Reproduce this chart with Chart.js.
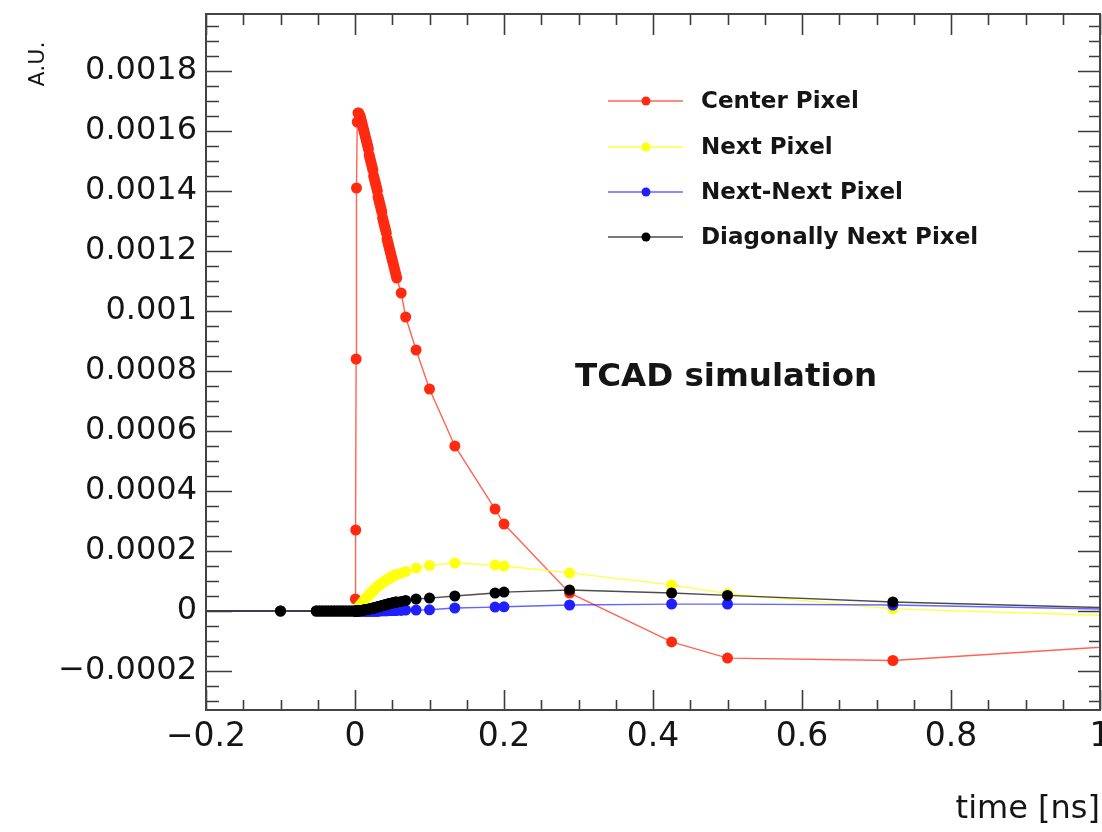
<!DOCTYPE html>
<html>
<head>
<meta charset="utf-8">
<script src="https://cdn.jsdelivr.net/npm/chart.js@4.4.1/dist/chart.umd.min.js"></script>
<style>
html,body{margin:0;padding:0;background:#fff;overflow:hidden}
#wrap{width:1102px;height:832px;overflow:hidden;position:relative;background:#fff}
canvas{display:block}
</style>
</head>
<body>
<div id="wrap"><canvas id="c" width="1130" height="832"></canvas></div>
<script>
// ---- data (time in ns, signal in A.U.) ----
const time = [
  -0.25, -0.1, -0.052, -0.048, -0.044, -0.04, -0.036, -0.032, -0.028, -0.024, -0.02, -0.016, -0.012, -0.008, -0.004, 0,
  0.0005, 0.001, 0.0015, 0.002, 0.003, 0.004,
  0.005, 0.006, 0.007, 0.008, 0.009, 0.010, 0.011, 0.012, 0.013, 0.014,
  0.015, 0.016, 0.017, 0.018, 0.019, 0.020, 0.021, 0.022, 0.023, 0.024,
  0.025, 0.026, 0.027, 0.028, 0.029, 0.030, 0.031, 0.032, 0.033, 0.034,
  0.035, 0.036, 0.037, 0.038, 0.039, 0.040, 0.041, 0.042, 0.043, 0.044,
  0.045, 0.046, 0.047, 0.048, 0.049, 0.050, 0.051, 0.052, 0.053, 0.054,
  0.055, 0.056,
  0.062, 0.068, 0.082, 0.1, 0.134, 0.188, 0.2, 0.288, 0.425, 0.5, 0.722, 1.1
];
const centerPixel = [
  0, 0, 0, 0, 0, 0, 0, 0, 0, 0, 0, 0, 0, 0, 0, 0,
  0.00004, 0.00027, 0.00084, 0.00141, 0.00163, 0.00166,
  0.00166, 0.00165, 0.00165, 0.00164, 0.00163, 0.00162, 0.00161, 0.0016, 0.00159, 0.00158,
  0.00157, 0.00156, 0.00155, 0.00154, 0.00152, 0.00151, 0.0015, 0.00149, 0.00148, 0.00147,
  0.00145, 0.00144, 0.00143, 0.00142, 0.00141, 0.0014, 0.00138, 0.00137, 0.00136, 0.00135,
  0.00134, 0.00133, 0.00131, 0.0013, 0.00129, 0.00128, 0.00127, 0.00126, 0.00124, 0.00123,
  0.00122, 0.00121, 0.0012, 0.00119, 0.00118, 0.00117, 0.00116, 0.00115, 0.00114, 0.00113,
  0.00112, 0.00111,
  0.00106, 0.00098, 0.00087, 0.00074, 0.00055, 0.00034, 0.00029, 0.00006, -0.000103, -0.000157, -0.000165, -0.000105
];
const nextPixel = [
  0, 0, 0, 0, 0, 0, 0, 0, 0, 0, 0, 0, 0, 0, 0, 0,
  0, 0, 0.000001, 0.000002, 0.000005, 0.000009,
  0.000013, 0.000016, 0.000019, 0.000022, 0.000025, 0.000028, 0.000031, 0.000034, 0.000037, 0.00004,
  0.000043, 0.000046, 0.000048, 0.000051, 0.000054, 0.000057, 0.000059, 0.000062, 0.000064, 0.000067,
  0.000069, 0.000072, 0.000074, 0.000077, 0.000079, 0.000081, 0.000083, 0.000085, 0.000087, 0.000089,
  0.000091, 0.000093, 0.000094, 0.000096, 0.000098, 0.0001, 0.000101, 0.000103, 0.000104, 0.000106,
  0.000107, 0.000109, 0.00011, 0.000112, 0.000113, 0.000115, 0.000116, 0.000117, 0.000119, 0.00012,
  0.000121, 0.000122,
  0.000126, 0.000132, 0.000143, 0.000152, 0.00016, 0.000153, 0.00015, 0.000127, 0.000087, 0.000058, 0.000007, -0.000022
];
const nextNextPixel = [
  0, 0, 0, 0, 0, 0, 0, 0, 0, 0, 0, 0, 0, 0, 0, 0,
  0, 0, 0, 0, 0, 0,
  0, 0, 0, 0, 0, 0, 0, 0, 0, 0,
  0, 0, 0, 0, 0, 0, 0, 0, 0, 0,
  0, 0, 0, 0, 0, 0, 0, 0, 0.000001, 0.000001,
  0.000001, 0.000001, 0.000001, 0.000001, 0.000001, 0.000001, 0.000001, 0.000001, 0.000001, 0.000001,
  0.000002, 0.000002, 0.000002, 0.000002, 0.000002, 0.000002, 0.000002, 0.000002, 0.000002, 0.000002,
  0.000002, 0.000002,
  0.000002, 0.000003, 0.000003, 0.000004, 0.00001, 0.000013, 0.000014, 0.00002, 0.000023, 0.000023, 0.00002, 0.000002
];
const diagonalPixel = [
  0, 0, 0, 0, 0, 0, 0, 0, 0, 0, 0, 0, 0, 0, 0, 0,
  0, 0, 0, 0, 0, 0,
  0.000001, 0.000001, 0.000001, 0.000001, 0.000002, 0.000002, 0.000003, 0.000003, 0.000004, 0.000004,
  0.000005, 0.000005, 0.000006, 0.000006, 0.000007, 0.000007, 0.000008, 0.000008, 0.000009, 0.00001,
  0.00001, 0.000011, 0.000011, 0.000012, 0.000013, 0.000013, 0.000014, 0.000015, 0.000015, 0.000016,
  0.000017, 0.000018, 0.000018, 0.000019, 0.00002, 0.00002, 0.000021, 0.000022, 0.000022, 0.000023,
  0.000024, 0.000024, 0.000025, 0.000026, 0.000026, 0.000027, 0.000027, 0.000028, 0.000029, 0.000029,
  0.00003, 0.00003,
  0.000032, 0.000035, 0.00004, 0.000043, 0.00005, 0.00006, 0.000063, 0.00007, 0.00006, 0.000052, 0.00003, 0.000005
];
const seriesNames = ['Center Pixel', 'Next Pixel', 'Next-Next Pixel', 'Diagonally Next Pixel'];
const xTickValues = [-0.2, 0, 0.2, 0.4, 0.6, 0.8, 1];
const yTickValues = [-0.0002, 0, 0.0002, 0.0004, 0.0006, 0.0008, 0.001, 0.0012, 0.0014, 0.0016, 0.0018];
const xRange = [-0.2, 1.0];
const yRange = [-0.00033, 0.00199];
const xTitle = 'time [ns]';
const yTitle = 'A.U.';
const annotationText = 'TCAD simulation';

// ---- styles ----
const markerColors = ['#ff2a0f', '#ffff10', '#1f1fff', '#000000'];
const lineColors = ['rgba(255,60,40,0.8)', 'rgba(255,255,60,0.95)', 'rgba(50,50,255,0.75)', 'rgba(0,0,0,0.7)'];
const drawOrder = [3, 2, 1, 0];
const seriesValues = [centerPixel, nextPixel, nextNextPixel, diagonalPixel];

function fmt(v) {
  const s = parseFloat(Number(v).toFixed(6)).toString();
  return s.replace('-', '\u2212');
}

const datasets = seriesValues.map((vals, i) => ({
  label: seriesNames[i],
  data: time.map((t, k) => ({x: t, y: vals[k]})),
  showLine: true,
  borderColor: lineColors[i],
  backgroundColor: markerColors[i],
  pointBackgroundColor: markerColors[i],
  pointBorderWidth: 0,
  pointRadius: 5.5,
  pointHoverRadius: 5.5,
  borderWidth: 1.4,
  tension: 0,
  order: drawOrder[i]
}));

const framePlugin = {
  id: 'rootFrame',
  afterDatasetsDraw(chart) {
    const {ctx, chartArea: a, scales: {x, y}} = chart;
    ctx.save();
    ctx.strokeStyle = '#3c3c3c';
    ctx.lineWidth = 1.6;
    ctx.beginPath();
    const xm = 0.05;
    for (let k = Math.ceil(x.min / xm - 1e-9); k <= Math.floor(x.max / xm + 1e-9); k++) {
      const px = Math.round(x.getPixelForValue(k * xm)) + 0.5;
      const major = (k % 4 === 0);
      ctx.moveTo(px, a.bottom); ctx.lineTo(px, a.bottom - (major ? 20 : 10));
      ctx.moveTo(px, a.top); ctx.lineTo(px, a.top + (major ? 21 : 11));
    }
    const ym = 0.00005;
    for (let k = Math.ceil(y.min / ym - 1e-9); k <= Math.floor(y.max / ym + 1e-9); k++) {
      const py = Math.round(y.getPixelForValue(k * ym)) + 0.5;
      const major = (k % 4 === 0);
      ctx.moveTo(a.left, py); ctx.lineTo(a.left + (major ? 26 : 13), py);
      ctx.moveTo(a.right, py); ctx.lineTo(a.right - (major ? 22 : 11), py);
    }
    ctx.stroke();
    ctx.lineWidth = 2;
    ctx.strokeStyle = '#444';
    ctx.strokeRect(a.left, a.top, a.right - a.left, a.bottom - a.top);
    ctx.restore();
  },
  afterDraw(chart) {
    const {ctx} = chart;
    ctx.save();
    // legend
    const lx0 = 608, lx1 = 683, mx = 646, tx = 701;
    const rows = [101, 147, 192, 237];
    chart.data.datasets.forEach((ds, i) => {
      const yy = rows[i];
      ctx.strokeStyle = ds.borderColor;
      ctx.lineWidth = 1.6;
      ctx.beginPath(); ctx.moveTo(lx0, yy); ctx.lineTo(lx1, yy); ctx.stroke();
      ctx.fillStyle = ds.pointBackgroundColor;
      ctx.beginPath(); ctx.arc(mx, yy, 4.5, 0, Math.PI * 2); ctx.fill();
      ctx.fillStyle = '#151515';
      ctx.font = 'bold 23px "DejaVu Sans"';
      ctx.textAlign = 'left';
      ctx.textBaseline = 'middle';
      ctx.fillText(ds.label, tx, yy + 1);
    });
    // annotation
    ctx.fillStyle = '#151515';
    ctx.font = 'bold 32.5px "DejaVu Sans"';
    ctx.textAlign = 'left';
    ctx.textBaseline = 'alphabetic';
    ctx.fillText(annotationText, 575, 386);
    // y title
    ctx.save();
    ctx.translate(38, 64);
    ctx.rotate(-Math.PI / 2);
    ctx.font = '22px "DejaVu Sans"';
    ctx.textAlign = 'center';
    ctx.textBaseline = 'middle';
    ctx.fillStyle = '#151515';
    ctx.fillText(yTitle, 0, 0);
    ctx.restore();
    ctx.restore();
  }
};

new Chart(document.getElementById('c'), {
  type: 'scatter',
  data: {datasets},
  options: {
    responsive: false,
    animation: false,
    devicePixelRatio: 1,
    layout: {padding: {left: 0, right: 30, top: 14, bottom: 0}},
    plugins: {legend: {display: false}, tooltip: {enabled: false}},
    scales: {
      x: {
        type: 'linear',
        min: xRange[0], max: xRange[1],
        grid: {display: false, drawTicks: false},
        border: {display: false},
        afterBuildTicks: s => { s.ticks = xTickValues.map(v => ({value: v})); },
        afterFit: s => { s.height = 122; s.paddingLeft = 0; s.paddingRight = 0; },
        ticks: {
          autoSkip: false, maxRotation: 0, padding: 8, color: '#151515',
          font: {family: 'DejaVu Sans', size: 33},
          callback: v => fmt(v)
        },
        title: {
          display: true, text: xTitle, align: 'end', color: '#151515',
          font: {family: 'DejaVu Sans', size: 32},
          padding: {top: 0, bottom: 3}
        }
      },
      y: {
        type: 'linear',
        min: yRange[0], max: yRange[1],
        grid: {display: false, drawTicks: false},
        border: {display: false},
        afterBuildTicks: s => { s.ticks = yTickValues.map(v => ({value: v})); },
        afterFit: s => { s.width = 206; s.paddingTop = 0; s.paddingBottom = 0; },
        ticks: {
          autoSkip: false, padding: 9, color: '#151515',
          font: {family: 'DejaVu Sans', size: 32},
          callback: v => fmt(v)
        }
      }
    }
  },
  plugins: [framePlugin]
});
</script>
</body>
</html>
